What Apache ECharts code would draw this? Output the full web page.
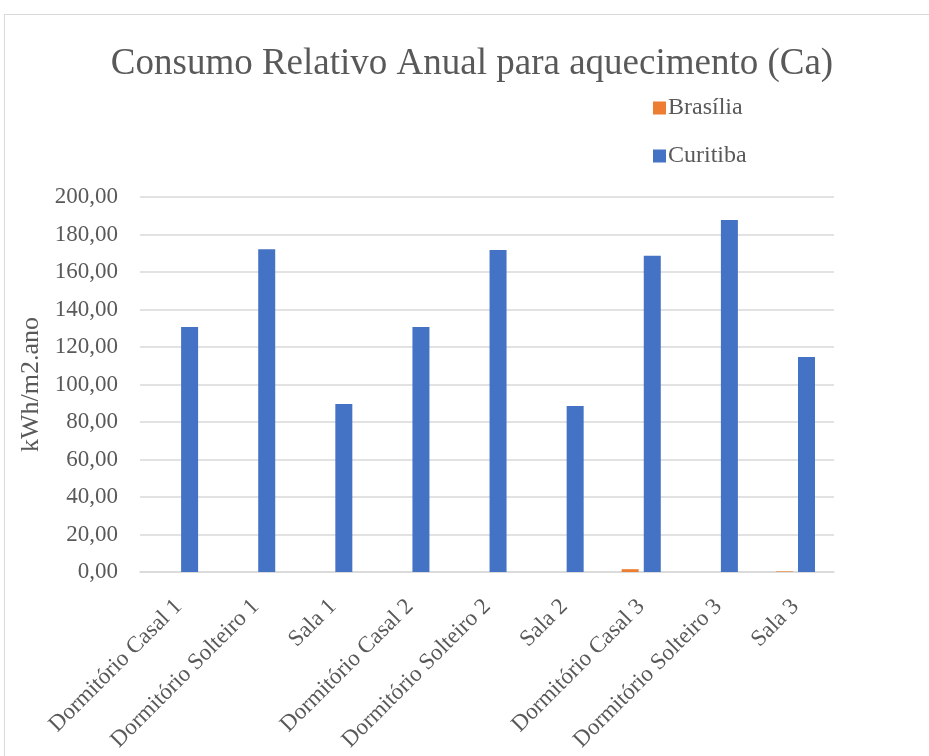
<!DOCTYPE html>
<html>
<head>
<meta charset="utf-8">
<script src="https://cdn.jsdelivr.net/npm/echarts@6/dist/echarts.min.js"></script>
<style>
  html, body { margin: 0; padding: 0; background: #fff; }
  #chart { width: 929px; height: 756px; }
</style>
</head>
<body>
<div id="chart"></div>
<script>
// categorias e valores (kWh/m2.ano)
var categories = ['Dormitório Casal 1', 'Dormitório Solteiro 1', 'Sala 1',
                  'Dormitório Casal 2', 'Dormitório Solteiro 2', 'Sala 2',
                  'Dormitório Casal 3', 'Dormitório Solteiro 3', 'Sala 3'];
var brasilia = [0, 0, 0, 0, 0, 0, 1.5, 0, 0.3];
var curitiba = [130.7, 172.1, 89.6, 130.7, 171.7, 88.5, 168.7, 187.7, 114.7];

var font = 'Liberation Serif';
var textColor = '#595959';

var myChart = echarts.init(document.getElementById('chart'));

option = {
    backgroundColor: '#fff',
    graphic: [{
        type: 'rect',
        shape: {x: 4.5, y: 14.5, width: 940, height: 760},
        style: {fill: 'none', stroke: '#d9d9d9', lineWidth: 1},
        silent: true
    }],
    title: {
        text: 'Consumo Relativo Anual para aquecimento (Ca)',
        left: 467,
        top: 41,
        textAlign: 'center',
        textStyle: {fontFamily: font, fontSize: 37, fontWeight: 'normal', color: textColor}
    },
    legend: {
        orient: 'vertical',
        left: 648,
        top: 91,
        itemWidth: 13,
        itemHeight: 13,
        itemGap: 24,
        icon: 'rect',
        textStyle: {fontFamily: font, fontSize: 24, color: textColor, padding: [0, 0, 0, -3]},
        data: ['Brasília', 'Curitiba']
    },
    grid: {left: 140, right: 95, top: 197, bottom: 184},
    xAxis: {
        type: 'category',
        data: categories,
        axisLine: {lineStyle: {color: '#d9d9d9', width: 1.5}},
        axisTick: {show: false},
        axisLabel: {
            interval: 0,
            rotate: 45,
            margin: 31,
            fontFamily: font,
            fontSize: 23,
            color: textColor
        }
    },
    yAxis: {
        type: 'value',
        min: 0,
        max: 200,
        interval: 20,
        name: 'kWh/m2.ano',
        nameLocation: 'middle',
        nameGap: 96,
        nameTextStyle: {fontFamily: font, fontSize: 26, color: textColor},
        axisLine: {show: false},
        axisTick: {show: false},
        splitLine: {lineStyle: {color: '#d9d9d9', width: 1.5}},
        axisLabel: {
            margin: 22,
            padding: [6, 0, 0, 0],
            fontFamily: font,
            fontSize: 23,
            color: textColor,
            formatter: function (v) { return v.toFixed(2).replace('.', ','); }
        }
    },
    series: [
        {
            name: 'Brasília',
            type: 'bar',
            data: brasilia,
            barWidth: 17,
            barGap: '30%',
            itemStyle: {color: '#ED7D31'}
        },
        {
            name: 'Curitiba',
            type: 'bar',
            data: curitiba,
            barWidth: 17,
            itemStyle: {color: '#4472C4'}
        }
    ]
};

myChart.setOption(option);
</script>
</body>
</html>
